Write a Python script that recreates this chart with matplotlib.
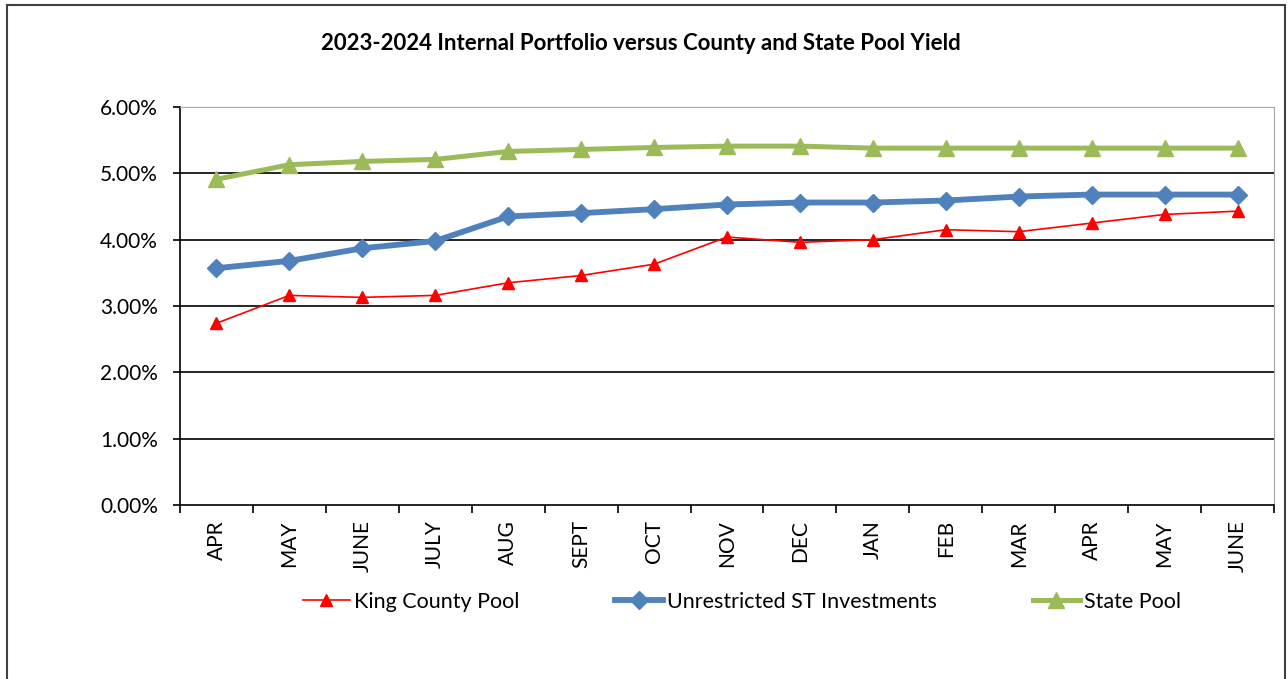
import numpy as np
import matplotlib
matplotlib.use("Agg")
import matplotlib.pyplot as plt
from matplotlib.patches import Rectangle
from matplotlib.ticker import FuncFormatter

plt.rcParams['font.family'] = ['Lato', 'DejaVu Sans']

months = ["APR", "MAY", "JUNE", "JULY", "AUG", "SEPT", "OCT", "NOV", "DEC",
          "JAN", "FEB", "MAR", "APR", "MAY", "JUNE"]
king_county = [2.74, 3.16, 3.13, 3.16, 3.35, 3.46, 3.63, 4.04, 3.96,
               4.00, 4.15, 4.12, 4.25, 4.38, 4.43]
unrestricted = [3.57, 3.68, 3.87, 3.98, 4.35, 4.40, 4.46, 4.53, 4.56,
                4.56, 4.59, 4.65, 4.68, 4.68, 4.68]
state_pool = [4.91, 5.13, 5.18, 5.21, 5.33, 5.36, 5.39, 5.41, 5.41,
              5.38, 5.38, 5.38, 5.38, 5.38, 5.38]

fig = plt.figure(figsize=(12.88, 6.79), dpi=100)
ax = fig.add_axes([180/1288, 1-505/679, 1094/1288, 398/679])

x = np.arange(len(months))
ax.plot(x, king_county, color="#FF0000", lw=1.2, marker="^", ms=9,
        label="King County Pool", zorder=3)
ax.plot(x, unrestricted, color="#4F81BD", lw=4.2, marker="D", ms=9,
        label="Unrestricted ST Investments", zorder=4)
ax.plot(x, state_pool, color="#9BBB59", lw=3.6, marker="^", ms=11,
        label="State Pool", zorder=5)

ax.set_xlim(-0.5, len(months) - 0.5)
ax.set_ylim(0, 6)
ax.set_yticks(np.arange(0, 7, 1))
ax.yaxis.set_major_formatter(FuncFormatter(lambda v, p: "%.2f%%" % v))
ax.set_xticks(x)
ax.set_xticklabels(months, rotation=90)
ax.set_xticks(np.arange(-0.5, len(months), 1), minor=True)
ax.tick_params(axis="x", which="major", length=0, pad=11, labelsize=15)
ax.tick_params(axis="x", which="minor", length=6, width=1.2, direction="out")
ax.tick_params(axis="y", length=5, width=1.2, labelsize=15, pad=11)

for v in range(1, 6):
    ax.axhline(v, color="black", lw=1.2, zorder=1)

ax.spines["left"].set_color("black")
ax.spines["left"].set_linewidth(1.2)
ax.spines["bottom"].set_color("black")
ax.spines["bottom"].set_linewidth(1.2)
ax.spines["top"].set_color("#A6A6A6")
ax.spines["right"].set_color("#A6A6A6")

fig.text(641/1288, 1-44/679, "2023-2024 Internal Portfolio versus County and State Pool Yield",
         ha="center", va="center", fontsize=16, fontweight="bold")

fig.legend(loc="center", bbox_to_anchor=(742/1288, 1-602/679), ncol=3,
           frameon=False, fontsize=15.5, handlelength=2.2, handletextpad=0.2,
           columnspacing=4.45)

# outer chart border
fig.patches.append(Rectangle((7/1288, -0.05), 1278/1288, 1.05 - 5/679,
                             transform=fig.transFigure, fill=False,
                             edgecolor="#404040", lw=1.5))

fig.savefig("out.png", dpi=100)
